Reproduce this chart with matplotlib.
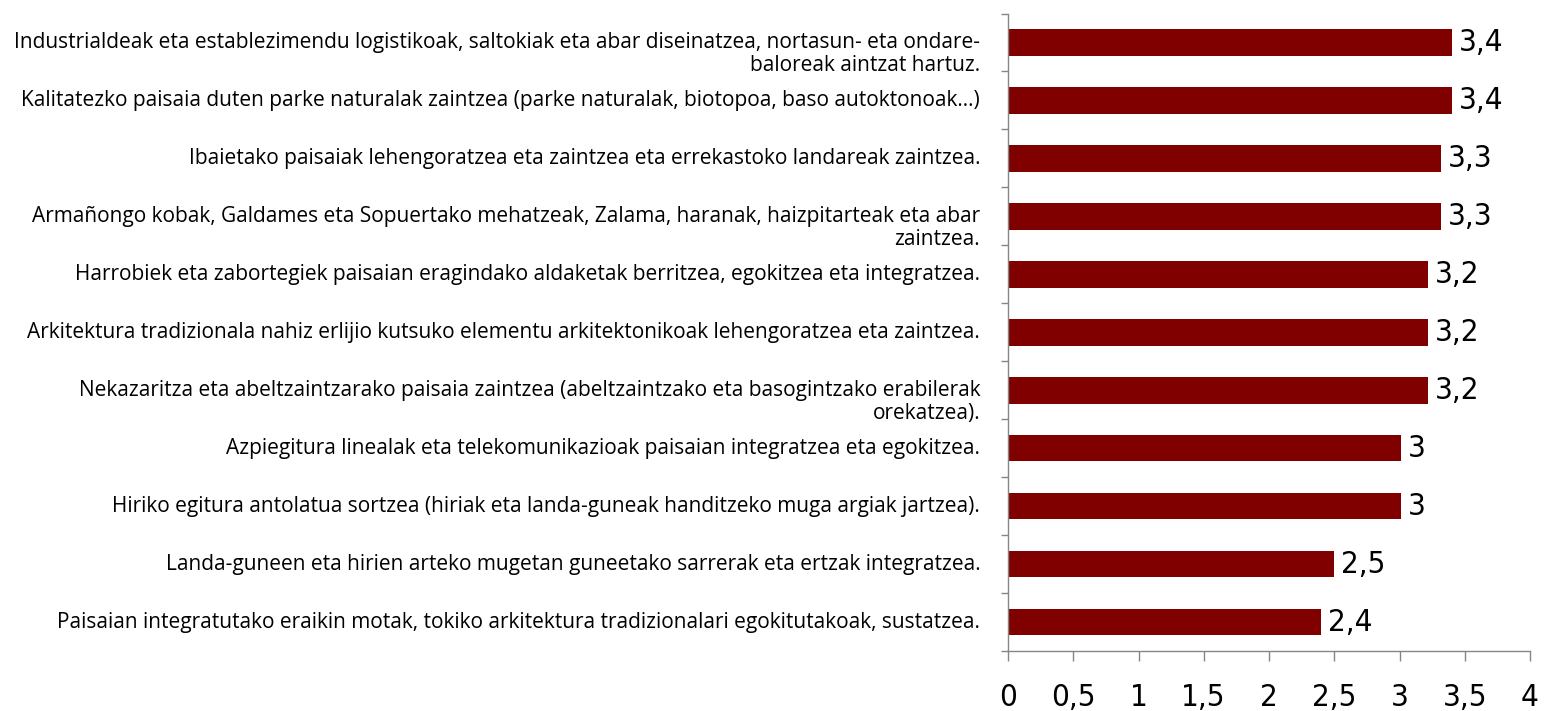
import matplotlib
matplotlib.use("Agg")
import matplotlib.pyplot as plt
import numpy as np
from matplotlib.transforms import blended_transform_factory

categories = [
    "Industrialdeak eta establezimendu logistikoak, saltokiak eta abar diseinatzea, nortasun- eta ondare-\nbaloreak aintzat hartuz.",
    "Kalitatezko paisaia duten parke naturalak zaintzea (parke naturalak, biotopoa, baso autoktonoak…)",
    "Ibaietako paisaiak lehengoratzea eta zaintzea eta errekastoko landareak zaintzea.",
    "Armañongo kobak, Galdames eta Sopuertako mehatzeak, Zalama, haranak, haizpitarteak eta abar\nzaintzea.",
    "Harrobiek eta zabortegiek paisaian eragindako aldaketak berritzea, egokitzea eta integratzea.",
    "Arkitektura tradizionala nahiz erlijio kutsuko elementu arkitektonikoak lehengoratzea eta zaintzea.",
    "Nekazaritza eta abeltzaintzarako paisaia zaintzea (abeltzaintzako eta basogintzako erabilerak\norekatzea).",
    "Azpiegitura linealak eta telekomunikazioak paisaian integratzea eta egokitzea.",
    "Hiriko egitura antolatua sortzea (hiriak eta landa-guneak handitzeko muga argiak jartzea).",
    "Landa-guneen eta hirien arteko mugetan guneetako sarrerak eta ertzak integratzea.",
    "Paisaian integratutako eraikin motak, tokiko arkitektura tradizionalari egokitutakoak, sustatzea.",
]
values = [3.40, 3.40, 3.32, 3.32, 3.22, 3.22, 3.22, 3.01, 3.01, 2.50, 2.40]
value_labels = ["3,4", "3,4", "3,3", "3,3", "3,2", "3,2", "3,2", "3", "3", "2,5", "2,4"]
xticks = [0, 0.5, 1, 1.5, 2, 2.5, 3, 3.5, 4]
xtick_labels = ["0", "0,5", "1", "1,5", "2", "2,5", "3", "3,5", "4"]

bar_color = "#800000"
axis_color = "#868686"

fig = plt.figure(figsize=(15.46, 7.11), dpi=100)
ax = fig.add_axes([1008 / 1546, 1 - 651 / 711, (1530 - 1008) / 1546, (651 - 13.5) / 711])

y = np.arange(len(categories))
ax.barh(y, values, height=0.46, color=bar_color)

ax.set_ylim(len(categories) - 0.5, -0.5)
ax.set_xlim(0, 4)

for s in ["top", "right"]:
    ax.spines[s].set_visible(False)
for s in ["left", "bottom"]:
    ax.spines[s].set_color(axis_color)
    ax.spines[s].set_linewidth(1.0)

num_font = dict(family="DejaVu Sans", stretch="condensed")

ax.set_xticks(xticks)
ax.set_xticklabels(xtick_labels, fontsize=22.5, **num_font)
ax.tick_params(axis="x", direction="out", length=7, width=1, color=axis_color, pad=16)

ax.set_yticks([])
ax.set_yticks(np.arange(len(categories) + 1) - 0.5, minor=True)
ax.tick_params(axis="y", which="minor", direction="out", length=5, width=1, color=axis_color)
ax.yaxis.set_minor_formatter(plt.NullFormatter())

trans = blended_transform_factory(ax.transAxes, ax.transData)
for i, lab in enumerate(categories):
    for j, line in enumerate(lab.split("\n")):
        ax.annotate(line, xy=(0, i), xycoords=trans, xytext=(-20, -16.5 * j),
                    textcoords="offset points", ha="right", va="center",
                    fontsize=15, family=["Open Sans", "DejaVu Sans"], color="black")

for i, (v, t) in enumerate(zip(values, value_labels)):
    ax.annotate(t, xy=(v, i), xytext=(5, 0), textcoords="offset points",
                ha="left", va="center", fontsize=22.5, color="black", **num_font)

fig.savefig("out.png", dpi=100)
